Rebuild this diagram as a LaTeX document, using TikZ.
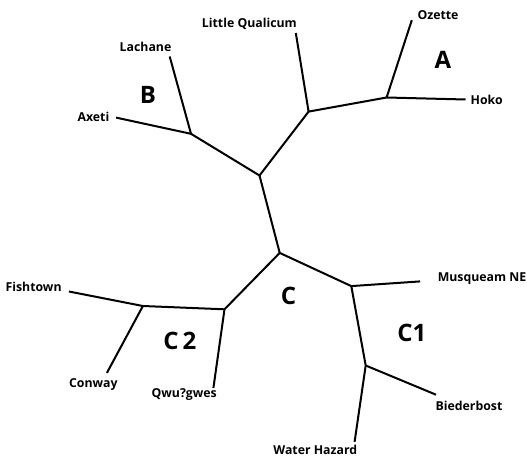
\documentclass[tikz,border=0pt]{standalone}
\usepackage{fontspec}
\setmainfont{Open Sans}
\begin{document}
\begin{tikzpicture}[x=1pt,y=-1pt,
  branch/.style={line width=2pt, line cap=butt, line join=round},
  taxon/.style={font=\bfseries\fontsize{12.3}{14}\selectfont, inner sep=0pt},
  clade/.style={font=\bfseries\fontsize{24}{27}\selectfont, inner sep=0pt}]
\useasboundingbox (0,0) rectangle (527,457);
% internal nodes
\coordinate (r1) at (259.5,175.5);
\coordinate (lq) at (308.6,111.6);
\coordinate (na) at (386.6,97.5);
\coordinate (nb) at (191,133.8);
\coordinate (nc) at (279.7,252.9);
\coordinate (nc2) at (224.5,309.3);
\coordinate (nfc) at (142.9,306);
\coordinate (nc1) at (351.3,286.1);
\coordinate (nc1b) at (365.7,365.5);
% tips
\coordinate (tLQ) at (295.8,33);
\coordinate (tOz) at (411.8,20.2);
\coordinate (tHo) at (465.5,99.5);
\coordinate (tLa) at (169.7,56.5);
\coordinate (tAx) at (116,117.6);
\coordinate (tFi) at (68.9,291.5);
\coordinate (tCo) at (106.9,372.9);
\coordinate (tQw) at (213.4,388);
\coordinate (tMu) at (420.2,281.4);
\coordinate (tBi) at (436,394.7);
\coordinate (tWa) at (354.6,441.8);
% labels
\node[taxon] (LQ) at (249.4,23.5) {Little Qualicum};
\node[taxon] (Oz) at (438,15) {Ozette};
\node[taxon] (Ho) at (486.7,99.8) {Hoko};
\node[taxon] (La) at (145.5,46.4) {Lachane};
\node[taxon] (Ax) at (93.4,117) {Axeti};
\node[taxon] (Fi) at (33.6,286.5) {Fishtown};
\node[taxon] (Co) at (93.4,384.6) {Conway};
\node[taxon] (Qw) at (184.2,394.7) {Qwu?gwes};
\node[taxon, anchor=east] (Mu) at (526.5,278.7) {Musqueam NE};
\node[taxon] (Bi) at (469,405.5) {Biederbost};
\node[taxon] (Wa) at (315.3,450) {Water Hazard};
\node[clade] (A) at (443,60) {A};
\node[clade] (B) at (148,95) {B};
\node[clade] (C) at (288.4,296.2) {C};
\node[clade] (C1) at (411.8,332.5) {C1};
\node[clade] (C2) at (179.8,341) {C\,2};
% branches
\draw[branch] (r1) -- (nc);
\draw[branch] (r1) -- (lq);
\draw[branch] (r1) -- (nb);
\draw[branch] (lq) -- (tLQ);
\draw[branch] (lq) -- (na);
\draw[branch] (na) -- (tOz);
\draw[branch] (na) -- (tHo);
\draw[branch] (nb) -- (tLa);
\draw[branch] (nb) -- (tAx);
\draw[branch] (nc) -- (nc2);
\draw[branch] (nc) -- (nc1);
\draw[branch] (nc2) -- (nfc);
\draw[branch] (nc2) -- (tQw);
\draw[branch] (nfc) -- (tFi);
\draw[branch] (nfc) -- (tCo);
\draw[branch] (nc1) -- (tMu);
\draw[branch] (nc1) -- (nc1b);
\draw[branch] (nc1b) -- (tBi);
\draw[branch] (nc1b) -- (tWa);
\end{tikzpicture}
\end{document}
